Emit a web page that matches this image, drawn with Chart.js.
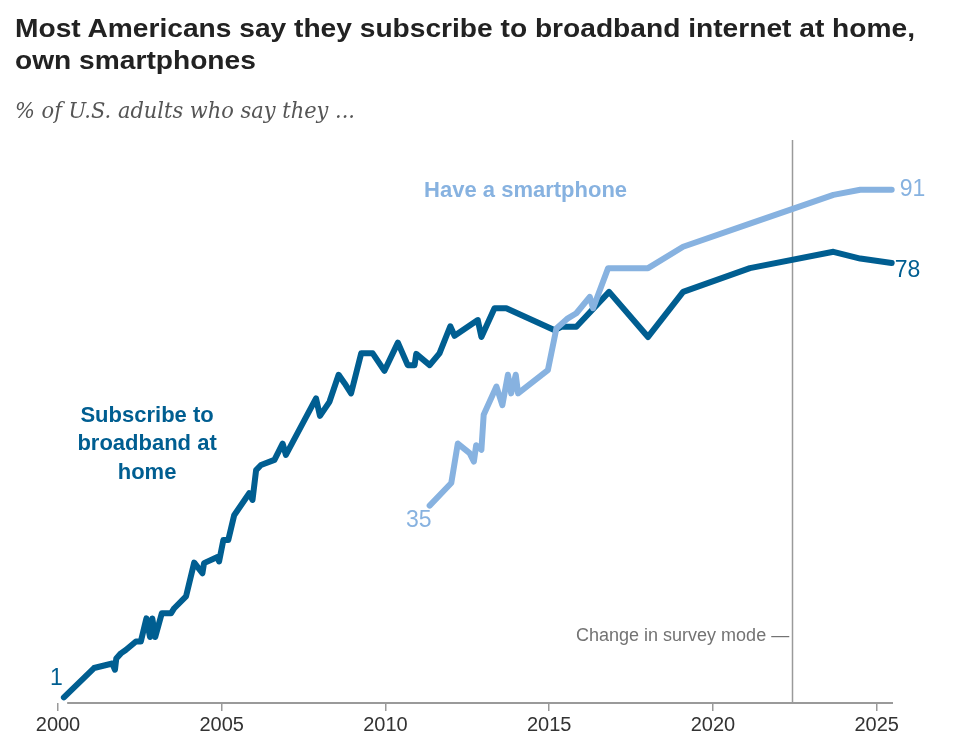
<!DOCTYPE html>
<html><head><meta charset="utf-8">
<script src="https://cdn.jsdelivr.net/npm/chart.js@4.4.1/dist/chart.umd.min.js"></script>
<style>
html,body{margin:0;padding:0;background:#fff;width:960px;height:753px;overflow:hidden;}
#wrap{position:relative;width:960px;height:753px;}
#title{position:absolute;left:15px;top:12px;font:bold 26px/32px "Liberation Sans",Arial,sans-serif;color:#222;white-space:nowrap;transform-origin:0 0;}
#sub{position:absolute;left:15px;top:98px;font:italic 22px/26px "DejaVu Serif",serif;color:#555;white-space:nowrap;transform-origin:0 0;}
canvas{position:absolute;left:0;top:0;}
</style></head>
<body><div id="wrap"><canvas id="c" width="960" height="753"></canvas>
<div id="title"><span id="t1">Most Americans say they subscribe to broadband internet at home,</span><br>own smartphones</div>
<div id="sub"><span id="s1">% of U.S. adults who say they ...</span></div></div>
<script>
// ---- data ----
const broadbandYears = [2000.18,2001.10,2001.66,2001.74,2001.78,2001.92,2002.07,2002.38,2002.53,2002.70,2002.81,2002.88,2002.97,2003.17,2003.45,2003.55,2003.91,2004.16,2004.41,2004.46,2004.87,2004.92,2005.05,2005.20,2005.38,2005.84,2005.94,2006.05,2006.20,2006.61,2006.86,2006.96,2007.88,2008.00,2008.29,2008.57,2008.75,2008.95,2009.26,2009.61,2009.97,2010.38,2010.68,2010.89,2010.94,2011.35,2011.65,2011.98,2012.11,2012.82,2012.93,2013.33,2013.69,2015.17,2015.37,2015.83,2016.83,2018.02,2019.09,2021.13,2023.68,2024.50,2025.46];
const broadbandValues = [1,6.2,7.0,5.9,7.9,8.8,9.4,10.9,10.9,15.0,11.7,15.0,11.7,15.9,15.9,16.8,18.9,24.9,23.0,24.8,25.9,25.1,28.9,28.9,33.3,37.2,36.0,41.3,42.2,43.1,46.0,44.0,54.0,50.9,53.4,58.2,56.7,54.9,62.0,62.0,58.9,63.9,59.9,59.9,61.9,59.9,62.0,66.8,65.1,67.9,64.9,70.0,70.0,66.1,66.7,66.7,72.9,64.9,72.9,77.1,80.0,78.8,78];
const smartphoneYears = [2011.35,2012.01,2012.21,2012.57,2012.70,2012.77,2012.93,2013.00,2013.39,2013.57,2013.74,2013.84,2013.98,2014.05,2014.96,2015.22,2015.57,2015.83,2016.24,2016.34,2016.80,2018.02,2019.09,2021.13,2023.68,2024.50,2025.46];
const smartphoneValues = [35,39.0,46.0,44.3,42.8,45.7,44.9,51.1,56.1,52.8,58.2,54.9,58.2,54.9,59.0,66.4,68.2,69.1,72.0,70.0,77.1,77.1,80.9,85.0,90.1,91,91];
const xTickYears = [2000,2005,2010,2015,2020,2025];
const surveyChangeYear = 2022.42;
const axisLineStartYear = 2000.28;

const DARK = '#005e91';
const LIGHT = '#87b2e0';

// fit title/subtitle widths
const t = document.getElementById('title'), t1 = document.getElementById('t1');
t.style.transform = 'scaleX(' + (900 / t1.getBoundingClientRect().width) + ')';
const s = document.getElementById('sub'), s1 = document.getElementById('s1');
s.style.transform = 'scaleX(' + (340 / s1.getBoundingClientRect().width) + ')';

const annot = {
  id: 'annot',
  beforeDatasetsDraw(chart) {
    const {ctx, chartArea, scales: {x}} = chart;
    const px = Math.round(x.getPixelForValue(surveyChangeYear)) + 0.5;
    ctx.save();
    ctx.strokeStyle = '#9a9a9a';
    ctx.lineWidth = 1.5;
    ctx.beginPath();
    ctx.moveTo(px, chartArea.top + 1);
    ctx.lineTo(px, chartArea.bottom);
    ctx.stroke();
    // x axis line
    ctx.lineWidth = 2;
    ctx.beginPath();
    ctx.moveTo(x.getPixelForValue(axisLineStartYear), chartArea.bottom);
    ctx.lineTo(chartArea.right, chartArea.bottom);
    ctx.stroke();
    ctx.restore();
  },
  afterDatasetsDraw(chart) {
    const {ctx, scales: {x, y}} = chart;
    ctx.save();
    ctx.textBaseline = 'middle';
    // survey mode label
    ctx.fillStyle = '#737373';
    ctx.font = '18px "Liberation Sans", Arial, sans-serif';
    ctx.textAlign = 'right';
    ctx.fillText('Change in survey mode \u2014', x.getPixelForValue(surveyChangeYear) - 3, y.getPixelForValue(11.9));
    // end labels
    ctx.font = '23px "Liberation Sans", Arial, sans-serif';
    const bL = broadbandYears.length - 1, sL = smartphoneYears.length - 1;
    ctx.fillStyle = DARK;
    ctx.textAlign = 'right';
    ctx.fillText(String(broadbandValues[0]), x.getPixelForValue(broadbandYears[0]) - 1, y.getPixelForValue(broadbandValues[0]) - 19);
    ctx.textAlign = 'left';
    ctx.fillText(String(broadbandValues[bL]), x.getPixelForValue(broadbandYears[bL]) + 3, y.getPixelForValue(broadbandValues[bL]) + 8);
    ctx.fillStyle = LIGHT;
    ctx.textAlign = 'right';
    ctx.fillText(String(smartphoneValues[0]), x.getPixelForValue(smartphoneYears[0]) + 2, y.getPixelForValue(smartphoneValues[0]) + 15);
    ctx.textAlign = 'left';
    ctx.fillText(String(smartphoneValues[sL]), x.getPixelForValue(smartphoneYears[sL]) + 8, y.getPixelForValue(smartphoneValues[sL]));
    // series labels
    ctx.font = 'bold 22px "Liberation Sans", Arial, sans-serif';
    ctx.textAlign = 'center';
    ctx.fillStyle = LIGHT;
    ctx.fillText('Have a smartphone', x.getPixelForValue(2014.28), y.getPixelForValue(90.8));
    ctx.fillStyle = DARK;
    const cx = x.getPixelForValue(2002.72), cy = y.getPixelForValue(50.9);
    ['Subscribe to', 'broadband at', 'home'].forEach((l, i) => ctx.fillText(l, cx, cy + i * 28.5));
    ctx.restore();
  }
};

new Chart(document.getElementById('c'), {
  type: 'line',
  data: {
    datasets: [
      {label: 'Have a smartphone', data: smartphoneYears.map((v, i) => ({x: v, y: smartphoneValues[i]})),
       borderColor: LIGHT, borderWidth: 6, pointRadius: 0, tension: 0, borderCapStyle: 'round', borderJoinStyle: 'round', clip: false},
      {label: 'Subscribe to broadband at home', data: broadbandYears.map((v, i) => ({x: v, y: broadbandValues[i]})),
       borderColor: DARK, borderWidth: 6, pointRadius: 0, tension: 0, borderCapStyle: 'round', borderJoinStyle: 'round', clip: false}
    ]
  },
  options: {
    responsive: false, animation: false, devicePixelRatio: 1,
    layout: {padding: {left: 58, right: 67, top: 139, bottom: 14}},
    plugins: {legend: {display: false}, tooltip: {enabled: false}},
    scales: {
      x: {type: 'linear', min: 2000, max: 2025.5,
          afterBuildTicks: sc => { sc.ticks = xTickYears.map(v => ({value: v})); },
          grid: {display: true, drawOnChartArea: false, drawTicks: true, tickLength: 8, color: '#9a9a9a', lineWidth: 1.5},
          border: {display: false},
          ticks: {autoSkip: false, maxRotation: 0, padding: 2, color: '#333', font: {family: '"Liberation Sans", Arial, sans-serif', size: 20}, callback: v => String(v)}},
      y: {display: false, min: 0, max: 100}
    }
  },
  plugins: [annot]
});
</script>
</body></html>
